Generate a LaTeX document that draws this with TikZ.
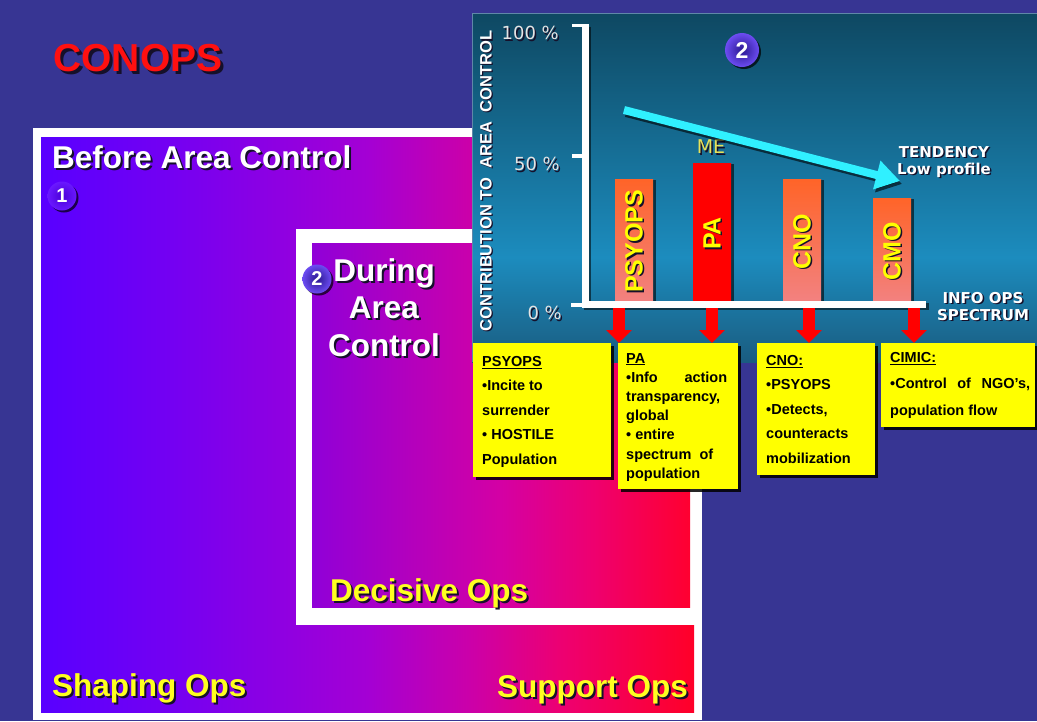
\documentclass[tikz,border=0pt]{standalone}
\usepackage{fontspec}
\setmainfont{Liberation Sans}
\newfontfamily\dvs{DejaVu Sans}
\usetikzlibrary{arrows.meta,shadows}
\definecolor{bgblue}{HTML}{373593}
\definecolor{gA}{HTML}{5800FF}
\definecolor{gA2}{HTML}{7400F2}
\definecolor{gB}{HTML}{A400D4}
\definecolor{gB2}{HTML}{CC00A8}
\definecolor{gC}{HTML}{EE0070}
\definecolor{gD}{HTML}{FF0028}
\definecolor{hA}{HTML}{9000D8}
\definecolor{hB}{HTML}{D400A4}
\definecolor{hC}{HTML}{EE0070}
\definecolor{hD}{HTML}{FF0030}
\definecolor{ptop}{HTML}{0E4862}
\definecolor{pmid}{HTML}{1C8CBE}
\definecolor{pbot}{HTML}{1A5C80}
\definecolor{pborder}{HTML}{5F87A8}
\definecolor{barTop}{HTML}{FF6428}
\definecolor{barBot}{HTML}{F28282}
\definecolor{parred}{HTML}{FF0000}
\definecolor{baryellow}{HTML}{FFFF00}
\definecolor{opsyellow}{HTML}{FFFF20}
\definecolor{meyellow}{HTML}{E6E25A}
\definecolor{conred}{HTML}{FF1010}
\definecolor{axgray}{HTML}{E4E4E4}
\definecolor{cyanA}{HTML}{30F0FF}
\definecolor{arrred}{HTML}{FF0000}
\definecolor{boxyellow}{HTML}{FFFF00}
\definecolor{shadowc}{HTML}{15102A}
\definecolor{ballIn}{HTML}{2A1890}
\definecolor{ballOut}{HTML}{6C4CF2}
\definecolor{ballOneIn}{HTML}{4A00D8}
\definecolor{ballOneOut}{HTML}{6A18FF}
\pgfdeclarehorizontalshading{outershade}{100bp}{color(0bp)=(gA); color(25bp)=(gA); color(35bp)=(gA2); color(50bp)=(gB); color(58bp)=(gB2); color(65bp)=(gC); color(75bp)=(gD); color(100bp)=(gD)}
\pgfdeclarehorizontalshading{innershade}{100bp}{color(0bp)=(hA); color(25bp)=(hA); color(50bp)=(hB); color(62bp)=(hC); color(75bp)=(hD); color(100bp)=(hD)}
\pgfdeclareverticalshading{panelshade}{100bp}{color(0bp)=(pbot); color(25bp)=(pbot); color(40bp)=(pmid); color(75bp)=(ptop); color(100bp)=(ptop)}
\newcommand\shd[3][2pt]{\rlap{\smash{\kern#1\raisebox{-#1}{\color{shadowc}#3}}}{\color{#2}#3}}
\newcommand\shdr[3][2pt]{\rlap{\smash{\kern-#1\raisebox{-#1}{\color{shadowc}#3}}}{\color{#2}#3}}
\begin{document}
\begin{tikzpicture}[x=1pt,y=-1pt,
  bigtxt/.style={font=\bfseries\fontsize{31.5}{37.5}\selectfont, inner sep=0pt},
  ballsty/.style={circle, inner sep=0pt, text=white, font=\bfseries\fontsize{20}{20}\selectfont,
    inner color=ballIn, outer color=ballOut,
    drop shadow={shadow xshift=2pt, shadow yshift=-2pt, fill=black, opacity=.7}},
  ybox/.style={rectangle, fill=boxyellow, inner sep=0pt, outer sep=0pt, anchor=north west,
    drop shadow={shadow xshift=3pt, shadow yshift=-3pt, fill=black, opacity=.85}},
  boxtext/.style={font=\bfseries\fontsize{14.5}{24.5}\selectfont, align=left, inner sep=0pt, anchor=north west, text=black},
  barsty/.style={rectangle, minimum width=38pt, inner sep=0pt, outer sep=0pt, anchor=south west,
    top color=barTop, bottom color=barBot,
    drop shadow={shadow xshift=3pt, shadow yshift=-1pt, fill=black, opacity=.6}},
  barlbl/.style={rotate=90, font=\bfseries\fontsize{25}{25}\selectfont, inner sep=0pt},
  axlbl/.style={font=\dvs\fontsize{18}{18}\selectfont, inner sep=0pt, anchor=east},
  tnd/.style={font=\dvs\bfseries\fontsize{15}{17}\selectfont, inner sep=0pt, align=center},
  axisline/.style={draw=white, line width=7pt, line join=miter},
  axisshadow/.style={draw=black, opacity=.55, line width=7pt, line join=miter},
  tickline/.style={draw=white, line width=3.5pt},
  redarr/.style={draw=arrred, line width=12pt, -{Triangle[width=25pt,length=13pt]}},
  cyanarr/.style={draw=cyanA, line width=8pt, -{Triangle[width=28pt,length=24pt]}}
]
\useasboundingbox (0,0) rectangle (1037,721);
% background and frames
\fill[bgblue] (0,0) rectangle (1037,721);
\fill[white] (33,128) rectangle (702,720);
\shade[shading=outershade] (41,137) rectangle (694,712);
\fill[white] (296,229) rectangle (700,625);
\shade[shading=innershade] (312,243) rectangle (690,607);
% left texts
\node[font=\bfseries\fontsize{39}{39}\selectfont, inner sep=0pt] (conops) at (138,58) {\shd[3pt]{conred}{CONOPS}};
\node[bigtxt, anchor=base west] (before) at (52,168) {\shd{white}{Before Area Control}};
\node[ballsty, minimum size=29pt, inner color=ballOneIn, outer color=ballOneOut] (n1) at (62,196) {1};
\node[bigtxt, align=center] (during) at (384,307.5) {\shd{white}{During}\\\shd{white}{Area}\\\shd{white}{Control}};
\node[ballsty, minimum size=29pt] (n2a) at (317,279) {2};
\node[bigtxt, anchor=base west] (decisive) at (330,601) {\shd{opsyellow}{Decisive Ops}};
\node[bigtxt, anchor=base west] (shaping) at (52,696) {\shd{opsyellow}{Shaping Ops}};
\node[bigtxt, anchor=base east] (support) at (688,697) {\shd{opsyellow}{Support Ops}};
% chart panel
\shade[shading=panelshade] (472,13) rectangle (1037,362);
\draw[pborder, line width=1pt] (472.5,362) -- (472.5,13.5) -- (1037,13.5);
% y title and axis labels
\node[rotate=90, font=\bfseries\fontsize{16.5}{16.5}\selectfont, inner sep=0pt] (ytitle) at (486,181) {\shdr[1.2pt]{white}{CONTRIBUTION TO\ \ AREA\ \ CONTROL}};
\node[axlbl] (l100) at (559,33) {\shd[1.5pt]{axgray}{100 \%}};
\node[axlbl] (l50) at (560,164) {\shd[1.5pt]{axgray}{50 \%}};
\node[axlbl] (l0) at (562,313) {\shd[1.5pt]{axgray}{0 \%}};
% bars
\node[barsty, minimum height=125pt] (b1) at (615,304) {};
\node[barsty, minimum height=141pt, fill=parred, top color=parred, bottom color=parred] (b2) at (693,304) {};
\node[barsty, minimum height=125pt] (b3) at (783,304) {};
\node[barsty, minimum height=106pt] (b4) at (873,304) {};
\node[barlbl] (t1) at (b1.center) {\shdr[1.5pt]{baryellow}{PSYOPS}};
\node[barlbl] (t2) at (b2.center) {\shdr[1.5pt]{baryellow}{PA}};
\node[barlbl] (t3) at (b3.center) {\shdr[1.5pt]{baryellow}{CNO}};
\node[barlbl] (t4) at (b4.center) {\shdr[1.5pt]{baryellow}{CMO}};
% axes
\coordinate (ytop) at (585,24);
\coordinate (orig) at (585,304);
\coordinate (xend) at (926,304);
\draw[axisshadow] ([shift={(2.5,2.5)}]ytop) -- ([shift={(2.5,2.5)}]orig) -- ([shift={(2.5,2.5)}]xend);
\draw[axisline] (ytop) -- (orig) -- (xend);
\draw[tickline] (572,25.5) -- (585,25.5);
\draw[tickline] (572,156) -- (585,156);
\draw[tickline] (571,305) -- (585,305);
% ME, tendency arrow and labels
\node[font=\dvs\fontsize{19}{19}\selectfont, inner sep=0pt] (me) at (711,147) {\shd[1.5pt]{meyellow}{ME}};
\coordinate (ca) at (624,110);
\coordinate (cb) at (900,181);
\draw[cyanarr, draw=black, opacity=.6] ([shift={(2,3)}]ca) -- ([shift={(2,3)}]cb);
\draw[cyanarr] (ca) -- (cb);
\node[tnd, anchor=north] (tend) at (944,146) {\shd[1.5pt]{white}{TENDENCY}\\\shd[1.5pt]{white}{Low profile}};
\node[tnd] (info) at (983,306.5) {\shd[1.5pt]{white}{INFO OPS}\\\shd[1.5pt]{white}{SPECTRUM}};
\node[ballsty, minimum size=34pt, font=\bfseries\fontsize{23}{23}\selectfont] (n2b) at (742,50) {2};
% yellow boxes
\node[ybox, minimum width=138pt, minimum height=134pt] (psybox) at (473,343) {};
\node[ybox, minimum width=120pt, minimum height=146pt] (pabox) at (618,343) {};
\node[ybox, minimum width=118pt, minimum height=132pt] (cnobox) at (757,343) {};
\node[ybox, minimum width=154pt, minimum height=84pt] (cimicbox) at (881,343) {};
\node[boxtext] (psytxt) at (482,356) {\underline{PSYOPS}\\•Incite to\\surrender\\• HOSTILE\\Population};
\node[boxtext, font=\bfseries\fontsize{14.5}{19.2}\selectfont] (patxt) at (626,353) {\underline{PA}\\\makebox[101pt][l]{•Info\hfill action}\\transparency,\\global\\• entire\\spectrum\ \ of\\population};
\node[boxtext] (cnotxt) at (766,355) {\underline{CNO:}\\•PSYOPS\\•Detects,\\counteracts\\mobilization};
\node[boxtext, font=\bfseries\fontsize{14.5}{26.5}\selectfont] (cimictxt) at (890,352) {\underline{CIMIC:}\\\makebox[140pt][l]{•Control\hfill of\hfill NGO’s,}\\population flow};
% red arrows
\coordinate (r1) at (619,308);
\coordinate (r2) at (712,308);
\coordinate (r3) at (809,308);
\coordinate (r4) at (914,308);
\draw[redarr] (r1) -- (r1 |- pabox.north);
\draw[redarr] (r2) -- (r2 |- pabox.north);
\draw[redarr] (r3) -- (r3 |- cnobox.north);
\draw[redarr] (r4) -- (r4 |- cimicbox.north);
\end{tikzpicture}
\end{document}
